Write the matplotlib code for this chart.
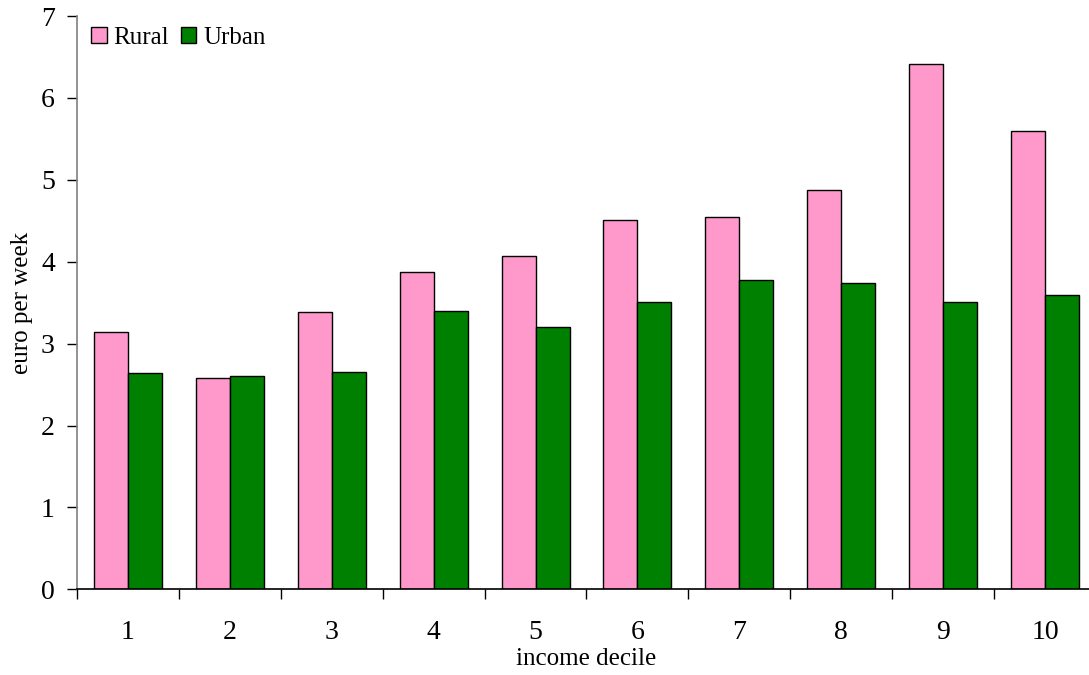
import matplotlib
matplotlib.use("Agg")
import matplotlib.pyplot as plt
import numpy as np

deciles = ["1", "2", "3", "4", "5", "6", "7", "8", "9", "10"]
rural = [3.14, 2.58, 3.39, 3.88, 4.07, 4.51, 4.55, 4.87, 6.41, 5.59]
urban = [2.64, 2.60, 2.65, 3.40, 3.20, 3.51, 3.78, 3.74, 3.51, 3.59]
yticks = [0, 1, 2, 3, 4, 5, 6, 7]

plt.rcParams['font.family'] = ['Liberation Serif', 'DejaVu Serif']

fig = plt.figure(figsize=(10.89, 6.75), dpi=100)
ax = fig.add_axes([77/1089, 1-589.3/675, (1096-77)/1089, (589.3-16)/675])

x = np.arange(1, len(deciles) + 1)
w = 1/3
ax.bar(x - w/2, rural, width=w, color='#FF99CC', edgecolor='black', linewidth=1.0, label='Rural')
ax.bar(x + w/2, urban, width=w, color='#008000', edgecolor='black', linewidth=1.0, label='Urban')

ax.set_xlim(0.5, len(deciles) + 0.5)
ax.set_ylim(0, 7)
ax.set_yticks(yticks)
ax.set_yticklabels([str(t) for t in yticks], fontsize=20)

ax.set_xticks(np.arange(0.5, len(deciles) + 1, 1.0))
ax.set_xticklabels([])
ax.set_xticks(x, minor=True)
ax.set_xticklabels(deciles, minor=True, fontsize=20)
ax.tick_params(axis='x', which='major', direction='out', length=7, width=1, color='black')
ax.tick_params(axis='x', which='minor', length=0, pad=22)
ax.tick_params(axis='y', direction='out', length=7, width=1, color='black', pad=9)

for s in ['top', 'right']:
    ax.spines[s].set_visible(False)
ax.spines['left'].set_color('#808080')
ax.spines['left'].set_linewidth(1.2)
ax.spines['bottom'].set_color('black')
ax.spines['bottom'].set_linewidth(1.2)

ax.set_ylabel('euro per week', fontsize=18, labelpad=6)
ax.set_xlabel('income decile', fontsize=18, labelpad=2)

leg = ax.legend(loc='upper left', bbox_to_anchor=(0.009, 0.99), ncol=2, frameon=False,
                fontsize=18, handlelength=0.62, handleheight=0.62, handletextpad=0.28,
                columnspacing=0.45, borderaxespad=0.0, borderpad=0.2)

fig.savefig('out.png', dpi=100)
